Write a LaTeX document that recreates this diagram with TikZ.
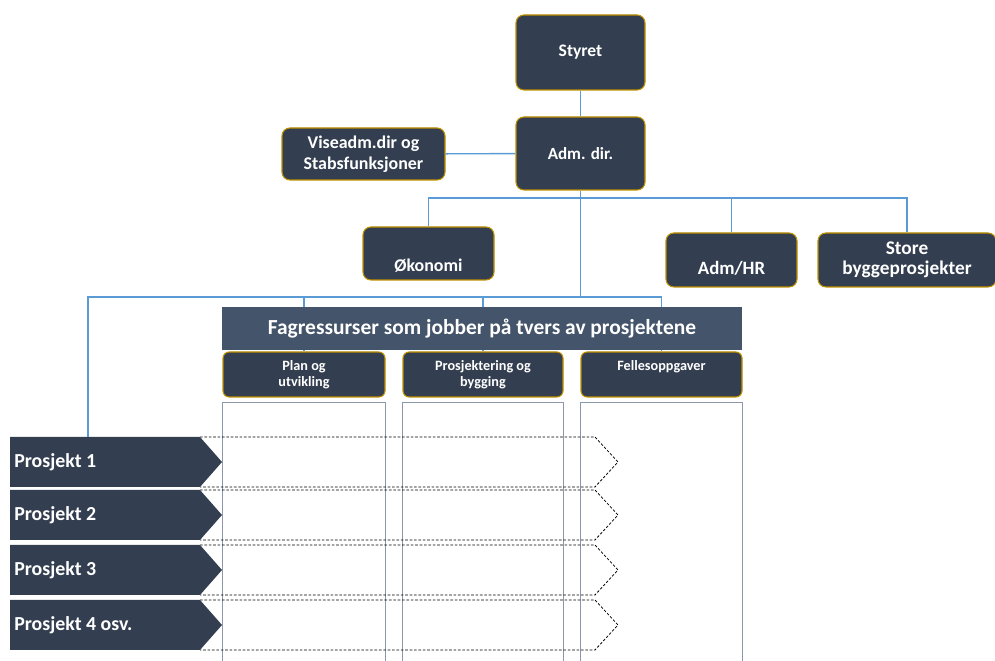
\documentclass[tikz,border=0pt]{standalone}
\usepackage{fontspec}
\setmainfont{Carlito}
\usetikzlibrary{positioning}
\definecolor{boxfill}{HTML}{333F50}
\definecolor{boxedge}{HTML}{BF9000}
\definecolor{barfill}{HTML}{44546A}
\definecolor{linkblue}{HTML}{5B9BD5}
\definecolor{colgray}{HTML}{8C97AA}
\newcommand\pxl{0.02cm}

\begin{document}
\begin{tikzpicture}[x=0.02cm,y=-0.02cm,
  orgbox/.style={draw=boxedge,line width=.6pt,fill=boxfill,rounded corners=4.5pt,text=white,
    font=\bfseries\fontsize{10}{12}\selectfont,align=center,inner sep=0pt},
  headbox/.style={orgbox,rounded corners=3.5pt,font=\bfseries\fontsize{8.1}{9}\selectfont},
  link/.style={draw=linkblue,line width=.8pt},
  colline/.style={draw=colgray,line width=.8pt},
  projline/.style={draw=black,line width=.45pt,dash pattern=on 1.5pt off 1pt},
  projtxt/.style={text=white,font=\bfseries\fontsize{11.3}{13}\selectfont,inner sep=0pt}]
\useasboundingbox (0,0) rectangle (995,661);

% ledelse og staber
\node[orgbox,minimum width=129*\pxl,minimum height=75*\pxl] (styret) at (580.5,52.5) {Styret};
\node[orgbox,minimum width=129*\pxl,minimum height=73*\pxl,font=\bfseries\fontsize{9.7}{12}\selectfont] (adm) at (580.5,153.5) {Adm. dir.};
\node[orgbox,minimum width=163*\pxl,minimum height=52*\pxl,font=\bfseries\fontsize{10.2}{12.2}\selectfont] (vise) at (363.5,154) {Viseadm.dir og\\Stabsfunksjoner};
\node[orgbox,minimum width=131*\pxl,minimum height=53*\pxl,text height=22pt,text depth=2pt,font=\bfseries\fontsize{10.2}{12}\selectfont] (okonomi) at (428.5,253.5) {Økonomi};
\node[orgbox,minimum width=131*\pxl,minimum height=54*\pxl,text height=19pt,text depth=2pt,font=\bfseries\fontsize{10.7}{12}\selectfont] (admhr) at (731.5,260) {Adm/HR};
\node[orgbox,minimum width=178*\pxl,minimum height=54*\pxl,font=\bfseries\fontsize{11}{11.5}\selectfont] (store) at (907,260) {Store\\byggeprosjekter};

% fagressurser
\node[headbox,minimum width=162*\pxl,minimum height=45*\pxl] (plan) at (304,374.5) {Plan og\\utvikling};
\node[headbox,minimum width=160*\pxl,minimum height=45*\pxl] (prosj) at (483,374.5) {Prosjektering og\\bygging};
\node[headbox,minimum width=161*\pxl,minimum height=45*\pxl,text height=6pt,text depth=10pt] (felles) at (661.5,374.5) {Fellesoppgaver};
\foreach \n in {plan,prosj,felles}
  \draw[colline] (\n.south west) ++(0,300) |- ([yshift=-5*\pxl]\n.south east) -- ++(0,300);

\coordinate (busA) at (580.5,198);
\coordinate (busB) at (580.5,297);
\coordinate (p1top) at (88,437);
\draw[link] (styret) -- (adm);
\draw[link] (vise) -- (adm);
\draw[link] (adm) -- (busB);
\draw[link] (okonomi.north) |- (busA) -| (store.north);
\draw[link] (busA) -| (admhr.north);
\draw[link] (p1top) |- (busB) -| (felles.north);
\draw[link] (busB -| plan.north) -- (plan.north);
\draw[link] (busB -| prosj.north) -- (prosj.north);

\node[fill=barfill,text=white,font=\bfseries\fontsize{12.2}{14}\selectfont,inner sep=0pt,
  minimum width=520*\pxl,minimum height=43*\pxl] (fag) at (482,328.5) {Fagressurser som jobber på tvers av prosjektene};

% prosjektene
\foreach \i/\t/\lbl in {1/437/Prosjekt 1,2/490/Prosjekt 2,3/545/Prosjekt 3,4/600/Prosjekt 4 osv.}{
  \draw[projline] (200,\t) -- (595,\t) -- (618,\t+25) -- (595,\t+50) -- (200,\t+50);
  \fill[boxfill] (10,\t) -- (200,\t) -- (222,\t+25) -- (200,\t+50) -- (10,\t+50) -- cycle;
  \node[projtxt,anchor=west] (p\i) at (14,\t+25) {\lbl};
}
\end{tikzpicture}
\end{document}
